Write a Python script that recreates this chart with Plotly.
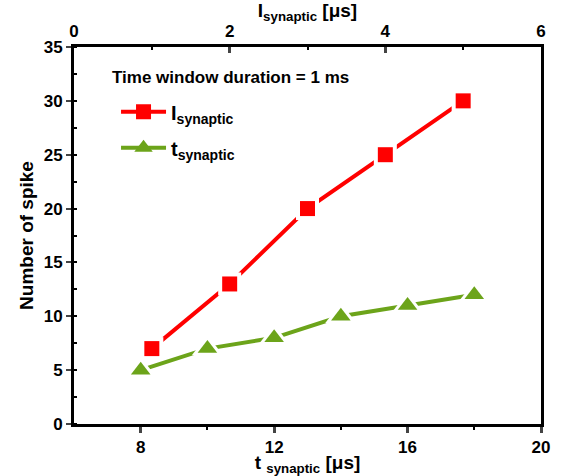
import plotly.graph_objects as go

# Data
i_syn = [1, 2, 3, 4, 5]
i_spikes = [7, 13, 20, 25, 30]
t_syn = [8, 10, 12, 14, 16, 18]
t_spikes = [5, 7, 8, 10, 11, 12]

FONT = "Liberation Sans, Arial, sans-serif"
RED = "#ff0000"
GREEN = "#6ca41a"

fig = go.Figure()


def add_series(x, y, axis, name, color, symbol, size, halo, group):
    # line + marker (legend entry)
    fig.add_trace(go.Scatter(
        x=x, y=y, xaxis=axis, yaxis="y", mode="lines+markers", name=name, legendgroup=group,
        line=dict(color=color, width=4),
        marker=dict(symbol=symbol, size=size, color=color),
    ))
    # white halo to create gaps between line and markers
    fig.add_trace(go.Scatter(
        x=x, y=y, xaxis=axis, yaxis="y", mode="markers", showlegend=False, hoverinfo="skip",
        marker=dict(symbol=symbol, size=halo, color="white"),
    ))
    # coloured markers on top
    fig.add_trace(go.Scatter(
        x=x, y=y, xaxis=axis, yaxis="y", mode="markers", showlegend=False,
        marker=dict(symbol=symbol, size=size, color=color),
    ))


add_series(i_syn, i_spikes, "x2", "<b>I<sub>synaptic</sub></b>", RED, "square", 15, 23, "a")
add_series(t_syn, t_spikes, "x", "<b>t<sub>synaptic</sub></b>", GREEN, "triangle-up", 17, 27, "b")

tickfont = dict(family=FONT, size=17, color="black", weight="bold")
titlefont = dict(family=FONT, size=19, color="black")

fig.update_layout(
    width=561, height=476,
    margin=dict(l=74, r=20, t=47, b=52),
    paper_bgcolor="white", plot_bgcolor="white",
    font=dict(family=FONT, color="black"),
    xaxis=dict(
        range=[6, 20], tickvals=[8, 12, 16, 20], ticks="outside", ticklen=6, tickwidth=3,
        showline=True, linewidth=3, linecolor="black", showgrid=False, zeroline=False,
        tickfont=tickfont, automargin=False,
        minor=dict(tickvals=[10, 14, 18], ticks="outside", ticklen=3, tickwidth=2, tickcolor="black"),
        title=dict(text="<b>t <sub>synaptic</sub> [μs]</b>", font=titlefont, standoff=2),
    ),
    xaxis2=dict(
        range=[0, 6], tickvals=[0, 2, 4, 6], overlaying="x", side="top", anchor="y",
        ticks="inside", ticklen=6, tickwidth=3,
        showline=True, linewidth=3, linecolor="black", showgrid=False, zeroline=False,
        tickfont=tickfont, automargin=False,
        minor=dict(tickvals=[1, 3, 5], ticks="inside", ticklen=3, tickwidth=2, tickcolor="black"),
        title=dict(text="<b>I<sub>synaptic</sub> [μs]</b>", font=titlefont, standoff=1),
    ),
    yaxis=dict(
        range=[0, 35], tickvals=[0, 5, 10, 15, 20, 25, 30, 35], ticks="outside", ticklen=5, tickwidth=2,
        showline=True, linewidth=3, linecolor="black", mirror=True, showgrid=False, zeroline=False,
        tickfont=tickfont, automargin=False,
        minor=dict(dtick=2.5, ticks="inside", ticklen=3, tickwidth=2, tickcolor="black"),
        title=dict(text="<b>Number of spike</b>", font=titlefont, standoff=6),
    ),
    showlegend=True,
    legend=dict(
        x=0.09, y=0.88, xanchor="left", yanchor="top",
        font=dict(family=FONT, size=20, color="black"),
        bgcolor="rgba(0,0,0,0)", tracegroupgap=7, itemwidth=45,
    ),
    annotations=[dict(
        text="<b>Time window duration = 1 ms</b>", xref="paper", yref="paper",
        x=0.077, y=0.918, xanchor="left", yanchor="middle", showarrow=False,
        font=dict(family=FONT, size=17, color="black"),
    )],
)

fig.write_html("out.html")
